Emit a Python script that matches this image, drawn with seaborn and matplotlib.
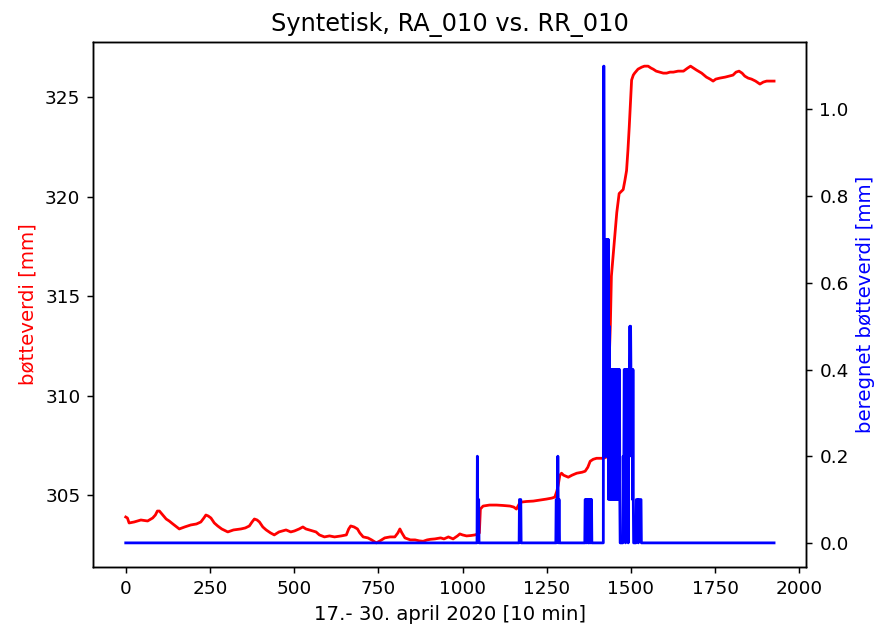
import numpy as np
import matplotlib
matplotlib.use("Agg")
import matplotlib.pyplot as plt
import seaborn as sns

# bøtteverdi (RA_010) as (step, mm)
red_t = [0, 5, 10, 25, 45, 65, 80, 88, 94, 100, 110, 120, 129, 140, 159, 175, 193, 210, 223, 232,
         238, 245, 253, 263, 273, 285, 303, 320, 342, 355, 367, 375, 382, 390, 397, 407, 417, 430, 441, 455,
         476, 490, 501, 515, 526, 535, 545, 555, 565, 575, 590, 605, 620, 640, 655, 662, 668, 678, 688, 695,
         705, 719, 730, 744, 755, 769, 785, 799, 808, 814, 820, 829, 845, 859, 872, 883, 895, 905, 918, 935,
         945, 958, 972, 985, 992, 1000, 1012, 1025, 1037, 1046, 1050, 1053, 1061, 1080, 1101, 1120, 1141, 1152, 1160, 1168,
         1175, 1190, 1210, 1230, 1249, 1265, 1274, 1280, 1284, 1289, 1294, 1300, 1314, 1325, 1339, 1355, 1364, 1372, 1379, 1388,
         1398, 1410, 1418, 1426, 1439, 1442, 1447, 1452, 1458, 1465, 1477, 1482, 1487, 1491, 1495, 1499, 1502, 1507, 1511, 1521,
         1532, 1540, 1551, 1560, 1566, 1575, 1586, 1596, 1606, 1616, 1626, 1640, 1656, 1668, 1677, 1686, 1695, 1710, 1724, 1735,
         1744, 1752, 1764, 1780, 1803, 1812, 1821, 1830, 1838, 1848, 1858, 1870, 1883, 1893, 1903, 1915, 1925]
red_v = [303.9, 303.85, 303.6, 303.65, 303.75, 303.7, 303.85, 304.0, 304.2, 304.2, 304.0, 303.8, 303.7, 303.55, 303.3, 303.4, 303.5, 303.55, 303.65, 303.85,
         304.0, 303.95, 303.85, 303.6, 303.45, 303.3, 303.15, 303.25, 303.3, 303.35, 303.45, 303.65, 303.8, 303.75, 303.65, 303.4, 303.25, 303.1, 303.0, 303.15,
         303.25, 303.15, 303.2, 303.3, 303.4, 303.3, 303.25, 303.2, 303.15, 303.0, 302.9, 302.95, 302.9, 302.95, 303.0, 303.3, 303.45, 303.4, 303.3, 303.1,
         302.9, 302.85, 302.75, 302.6, 302.7, 302.85, 302.9, 302.9, 303.1, 303.3, 303.1, 302.85, 302.75, 302.75, 302.7, 302.68, 302.75, 302.78, 302.8, 302.85,
         302.8, 302.9, 302.8, 302.95, 303.05, 303.0, 302.95, 302.97, 303.0, 303.05, 303.1, 304.3, 304.45, 304.5, 304.5, 304.48, 304.45, 304.4, 304.3, 304.55,
         304.65, 304.68, 304.7, 304.75, 304.8, 304.85, 304.9, 305.2, 305.5, 306.0, 306.1, 306.0, 305.9, 306.0, 306.1, 306.15, 306.2, 306.4, 306.7, 306.8,
         306.85, 306.85, 306.85, 306.9, 313.6, 316.0, 317.0, 318.0, 319.2, 320.15, 320.35, 320.8, 321.3, 322.3, 323.5, 324.8, 325.85, 326.1, 326.2, 326.4,
         326.5, 326.55, 326.55, 326.45, 326.4, 326.3, 326.25, 326.2, 326.2, 326.25, 326.25, 326.3, 326.3, 326.45, 326.55, 326.45, 326.35, 326.2, 326.0, 325.9,
         325.8, 325.9, 325.95, 326.0, 326.1, 326.25, 326.3, 326.2, 326.05, 325.95, 325.9, 325.8, 325.65, 325.75, 325.8, 325.8, 325.8]

# beregnet bøtteverdi (RR_010): nonzero steps only, all other steps are 0
blue_t = [1044, 1045, 1046, 1047, 1048,
          1169, 1170, 1171, 1172, 1173,
          1278, 1279, 1281, 1282, 1283, 1284, 1286, 1287,
          1364, 1365, 1367, 1368, 1370, 1371, 1372, 1374, 1376, 1377, 1379, 1380, 1382, 1383,
          1419, 1420, 1421, 1422, 1423, 1424, 1425, 1426, 1427, 1428, 1429, 1430, 1431, 1432, 1433, 1434,
          1435, 1436, 1437, 1438, 1439, 1440, 1441, 1442, 1443, 1444, 1445, 1446, 1447, 1448, 1449, 1450,
          1451, 1452, 1453, 1454, 1455, 1456, 1457, 1458, 1459, 1460, 1461, 1462, 1463, 1464, 1465, 1466, 1467,
          1477, 1478, 1479, 1480, 1481, 1482, 1483, 1485, 1486, 1487, 1488, 1489, 1490, 1491, 1493, 1494, 1495,
          1496, 1497, 1498, 1499, 1500, 1501, 1502, 1503, 1504, 1505, 1506, 1507,
          1516, 1517, 1518, 1519, 1520, 1521, 1523, 1524, 1525, 1526, 1527, 1528, 1529, 1530]
blue_v = [0.2, 0.1, 0.1, 0.1, 0.1,
          0.1, 0.1, 0.1, 0.1, 0.1,
          0.1, 0.1, 0.1, 0.1, 0.2, 0.1, 0.1, 0.1,
          0.1, 0.1, 0.1, 0.1, 0.1, 0.1, 0.1, 0.1, 0.1, 0.1, 0.1, 0.1, 0.1, 0.1,
          1.1, 1.1, 0.7, 0.7, 0.2, 0.7, 0.7, 0.2, 0.7, 0.7, 0.2, 0.7, 0.7, 0.2, 0.7, 0.1,
          0.4, 0.5, 0.2, 0.4, 0.1, 0.4, 0.4, 0.1, 0.4, 0.2, 0.4, 0.1, 0.4, 0.4, 0.1, 0.1,
          0.2, 0.1, 0.4, 0.1, 0.4, 0.4, 0.1, 0.4, 0.2, 0.4, 0.4, 0.1, 0.4, 0.1, 0.4, 0.4, 0.1,
          0.2, 0.1, 0.2, 0.4, 0.4, 0.1, 0.4, 0.4, 0.4, 0.2, 0.4, 0.1, 0.4, 0.4, 0.4, 0.4, 0.2,
          0.4, 0.5, 0.4, 0.5, 0.4, 0.4, 0.2, 0.4, 0.4, 0.1, 0.4, 0.1,
          0.1, 0.1, 0.1, 0.1, 0.1, 0.1, 0.1, 0.1, 0.1, 0.1, 0.1, 0.1, 0.1, 0.1]
n_steps = 1926

steps = np.arange(n_steps)
blue_full = np.zeros(n_steps)
blue_full[blue_t] = blue_v

dpi = 133
fig, ax = plt.subplots(figsize=(877 / dpi, 626 / dpi), dpi=dpi)
fig.subplots_adjust(left=0.1064, right=0.9196, bottom=0.0947, top=0.9324)

sns.lineplot(x=red_t, y=red_v, ax=ax, color="red", linewidth=1.5)
ax.set_xlabel("17.- 30. april 2020 [10 min]", fontsize=10.7)
ax.set_ylabel("bøtteverdi [mm]", color="red", fontsize=10.7)
ax.set_title("Syntetisk, RA_010 vs. RR_010", fontsize=13)

ax2 = ax.twinx()
sns.lineplot(x=steps, y=blue_full, ax=ax2, color="blue", linewidth=1.5)
ax2.set_ylabel("beregnet bøtteverdi [mm]", color="blue", fontsize=10.7)

fig.savefig("out.png", dpi=dpi)
plt.close(fig)
